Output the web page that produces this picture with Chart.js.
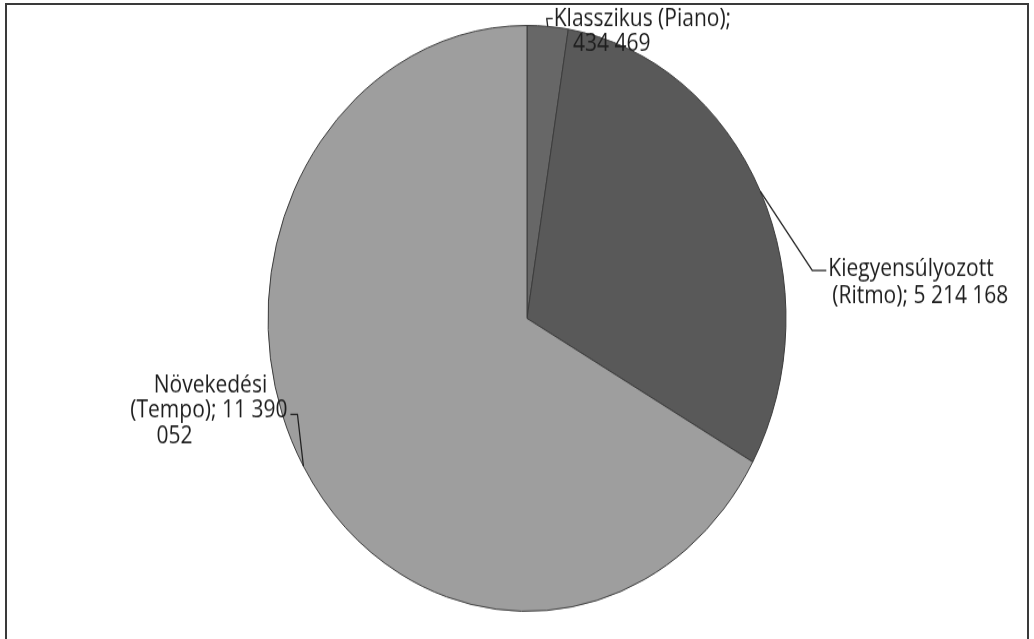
<!DOCTYPE html>
<html>
<head>
<meta charset="utf-8">
<script src="https://cdn.jsdelivr.net/npm/chart.js@4/dist/chart.umd.min.js"></script>
<style>
  html, body { margin: 0; padding: 0; background: #fff; }
  #page { position: relative; width: 1034px; height: 639px; overflow: hidden; }
  #frame { position: absolute; left: 5px; top: 3px; width: 1024px; height: 660px; border: 2px solid #3a3a3a; box-sizing: border-box; }
  #stretch { position: absolute; left: 0; top: 0; width: 1034px; height: 565px; transform-origin: 0 0; transform: scaleY(1.131); }
</style>
</head>
<body>
<div id="page">
  <div id="frame"></div>
  <div id="stretch"><canvas id="pie-canvas" width="1034" height="565"></canvas></div>
</div>
<script>
const categories = ['Klasszikus (Piano)', 'Kiegyensúlyozott (Ritmo)', 'Növekedési (Tempo)'];
const values = [434469, 5214168, 11390052];
const sliceColors = ['#676767', '#595959', '#9e9e9e'];

// label text lines as printed on the chart
const labelLines = [
    ['Klasszikus (Piano);', '434 469'],
    ['Kiegyensúlyozott', '(Ritmo); 5 214 168'],
    ['Növekedési', '(Tempo); 11 390', '052']
];

// where each callout sits relative to the slice's anchor point
const calloutLayout = [
    { elbow: [-1, -7], end: [5, -7], lines: [[6, -6, 'left'], [64, 16, 'center']] },
    { elbow: [52, 70], end: [66, 70], lines: [[68, 69, 'left'], [160, 93, 'center']] },
    { elbow: [-6, -46], end: [-13, -46], lines: [[-93, -71, 'center'], [-16, -49, 'right'], [-147, -26, 'left']] }
];

const calloutPlugin = {
    id: 'callouts',
    afterDatasetsDraw(chart) {
        const ctx = chart.ctx;
        const meta = chart.getDatasetMeta(0);
        ctx.save();
        ctx.font = '21px "Open Sans"';
        ctx.fillStyle = '#1e1e1e';
        ctx.strokeStyle = '#222';
        ctx.lineWidth = 1.3;
        ctx.textBaseline = 'middle';
        meta.data.forEach(function(arc, i) {
            const p = arc.getProps(['x', 'y', 'startAngle', 'endAngle', 'outerRadius'], true);
            const mid = (p.startAngle + p.endAngle) / 2;
            const ax = p.x + Math.cos(mid) * p.outerRadius;
            const ay = p.y + Math.sin(mid) * p.outerRadius;
            const lay = calloutLayout[i];
            ctx.beginPath();
            ctx.moveTo(ax, ay);
            ctx.lineTo(ax + lay.elbow[0], ay + lay.elbow[1]);
            ctx.lineTo(ax + lay.end[0], ay + lay.end[1]);
            ctx.stroke();
            labelLines[i].forEach(function(txt, j) {
                const l = lay.lines[j];
                ctx.textAlign = l[2];
                ctx.fillText(txt, ax + l[0], ay + l[1]);
            });
        });
        ctx.restore();
    }
};

const pieChart = new Chart(document.getElementById('pie-canvas'), {
    type: 'pie',
    data: {
        labels: categories,
        datasets: [{
            data: values,
            backgroundColor: sliceColors,
            borderColor: '#3c3c3c',
            borderWidth: 1
        }]
    },
    options: {
        responsive: false,
        animation: false,
        layout: { padding: { left: 20, right: 0, top: 22, bottom: 24 } },
        plugins: {
            legend: { display: false },
            tooltip: { enabled: false }
        }
    },
    plugins: [calloutPlugin]
});
</script>
</body>
</html>
